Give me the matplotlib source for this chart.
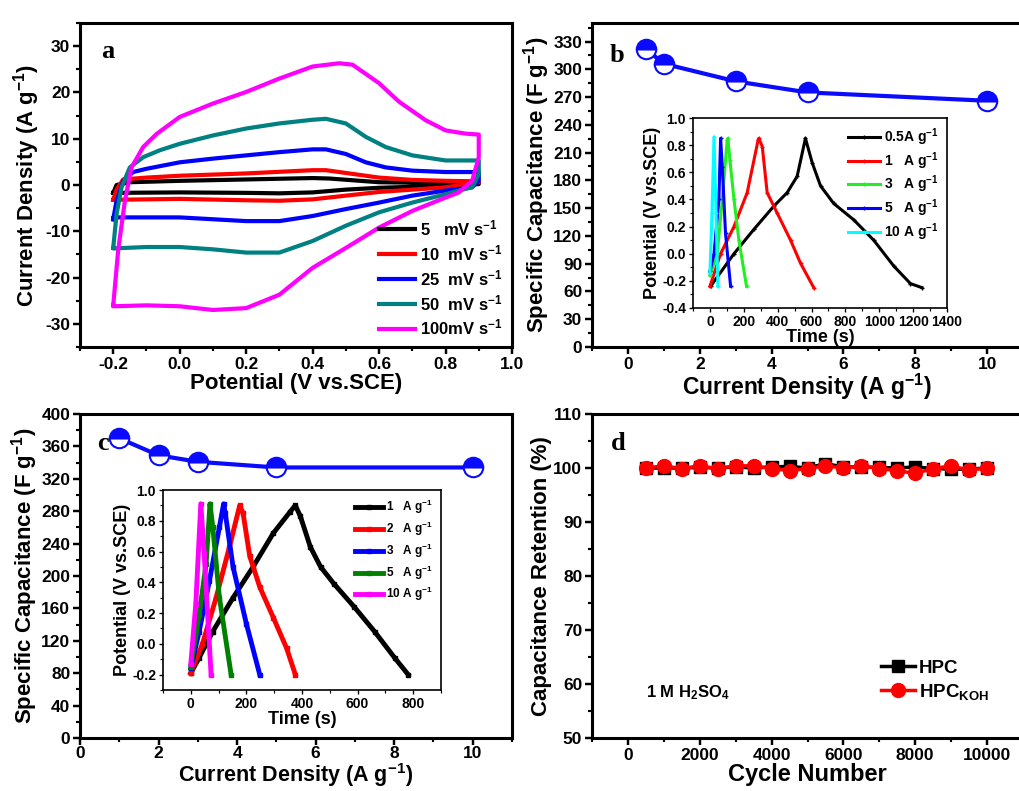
import matplotlib
matplotlib.use('Agg')
import matplotlib.pyplot as plt
from matplotlib.ticker import MultipleLocator

plt.rcParams['font.family'] = ['Liberation Sans', 'DejaVu Sans']
plt.rcParams['font.weight'] = 'bold'
plt.rcParams['axes.labelweight'] = 'bold'
plt.rcParams['mathtext.fontset'] = 'custom'
plt.rcParams['mathtext.rm'] = 'Liberation Sans:bold'
plt.rcParams['mathtext.it'] = 'Liberation Sans:bold'
plt.rcParams['mathtext.bf'] = 'Liberation Sans:bold'
plt.rcParams['mathtext.default'] = 'regular'

# ---------- panel a : CV curves (upper branch then lower branch) ----------
cv_labels = ['5   mV s$^{-1}$', '10  mV s$^{-1}$', '25  mV s$^{-1}$', '50  mV s$^{-1}$', '100mV s$^{-1}$']
cv_colors = ['black', '#ff0000', '#0000ff', '#008080', '#ff00ff']

v5 = [-0.2, -0.19, -0.15, 0.0, 0.2, 0.4, 0.45, 0.6, 0.8, 0.9,
      0.9, 0.8, 0.6, 0.5, 0.4, 0.3, 0.2, 0.0, -0.2, -0.2]
i5 = [-1.7, 0.0, 0.6, 0.9, 1.2, 1.5, 1.4, 0.6, 0.4, 0.4,
      0.2, -0.2, -0.6, -1.0, -1.6, -1.8, -1.7, -1.6, -1.7, -1.7]

v10 = [-0.2, -0.19, -0.17, -0.1, 0.0, 0.2, 0.4, 0.44, 0.5, 0.6, 0.7, 0.8, 0.9,
       0.9, 0.8, 0.6, 0.5, 0.4, 0.3, 0.2, 0.0, -0.2, -0.2]
i10 = [-3.2, -1.0, 1.2, 1.6, 2.0, 2.5, 3.2, 3.2, 2.6, 1.6, 1.1, 0.9, 0.8,
       0.6, -0.5, -1.5, -2.3, -3.1, -3.4, -3.3, -3.0, -3.2, -3.2]

v25 = [-0.2, -0.19, -0.17, -0.14, -0.1, 0.0, 0.1, 0.2, 0.3, 0.4, 0.44, 0.5, 0.56, 0.62, 0.7, 0.8, 0.9,
       0.9, 0.88, 0.8, 0.7, 0.6, 0.5, 0.4, 0.3, 0.2, 0.1, 0.0, -0.2, -0.2]
i25 = [-7.4, -3.4, 0.9, 2.8, 3.5, 4.9, 5.7, 6.4, 7.1, 7.7, 7.7, 6.7, 4.9, 3.8, 3.1, 2.8, 2.8,
       0.9, -0.5, -1.2, -2.3, -3.8, -5.2, -6.7, -7.8, -7.8, -7.4, -7.0, -7.0, -7.4]

v50 = [-0.2, -0.19, -0.175, -0.15, -0.11, -0.06, 0.0, 0.1, 0.2, 0.3, 0.4, 0.44, 0.5, 0.56, 0.62, 0.7, 0.8, 0.9,
       0.9, 0.88, 0.84, 0.8, 0.7, 0.6, 0.5, 0.4, 0.3, 0.2, 0.1, 0.0, -0.1, -0.2, -0.2]
i50 = [-13.6, -6.3, -0.5, 3.8, 6.0, 7.5, 8.9, 10.7, 12.2, 13.3, 14.1, 14.3, 13.3, 10.4, 8.2, 6.4, 5.3, 5.3,
       2.4, -0.5, -1.2, -2.0, -3.8, -5.9, -8.8, -12.1, -14.6, -14.6, -13.9, -13.4, -13.4, -13.7, -13.6]

v100 = [-0.2, -0.185, -0.165, -0.145, -0.11, -0.07, 0.0, 0.1, 0.2, 0.3, 0.4, 0.48, 0.52, 0.6, 0.66, 0.74, 0.8, 0.86, 0.9,
        0.9, 0.88, 0.84, 0.79, 0.7, 0.6, 0.5, 0.4, 0.3, 0.2, 0.1, 0.0, -0.1, -0.2, -0.2]
i100 = [-26, -14, -3.5, 3.8, 8.2, 11, 14.7, 17.6, 20.1, 23, 25.6, 26.3, 26, 22, 18, 14, 11.8, 11.1, 10.9,
        6, 0.9, -1.6, -3, -5.6, -9.2, -13.6, -17.9, -23.7, -26.6, -27, -26.2, -26, -26.2, -26]

# ---------- panel b ----------
b_density = [0.5, 1, 3, 5, 10]
b_capacitance = [322, 306, 287, 275, 266]

b_labels = ['0.5A g$^{-1}$', '1   A g$^{-1}$', '3   A g$^{-1}$', '5   A g$^{-1}$', '10 A g$^{-1}$']
b_colors = ['black', '#ff0000', '#22ee22', '#0000ff', '#00ffff']
b_t05 = [4, 142, 260, 377, 456, 515, 564, 604, 653, 731, 849, 967, 1085, 1184, 1252]
b_v05 = [-0.24, 0.0, 0.18, 0.35, 0.45, 0.57, 0.85, 0.67, 0.5, 0.37, 0.25, 0.10, -0.09, -0.22, -0.25]
b_t1 = [0, 63, 142, 220, 285, 289, 309, 338, 397, 476, 535, 613]
b_v1 = [-0.24, 0.0, 0.2, 0.45, 0.84, 0.85, 0.79, 0.45, 0.30, 0.10, -0.07, -0.25]
b_t3 = [0, 43, 73, 102, 106, 118, 142, 171, 216]
b_v3 = [-0.16, 0.0, 0.4, 0.84, 0.85, 0.69, 0.4, 0.1, -0.24]
b_t5 = [0, 24, 53, 63, 73, 92, 122]
b_v5 = [-0.13, 0.0, 0.4, 0.85, 0.64, 0.15, -0.24]
b_t10 = [0, 12, 24, 36, 47]
b_v10 = [-0.14, 0.3, 0.86, 0.3, -0.24]

# ---------- panel c ----------
c_density = [1, 2, 3, 5, 10]
c_capacitance = [370, 349, 341, 334, 334]

c_labels = ['1   A g$^{-1}$', '2   A g$^{-1}$', '3   A g$^{-1}$', '5   A g$^{-1}$', '10 A g$^{-1}$']
c_colors = ['black', '#ff0000', '#0000ff', '#008000', '#ff00ff']
c_t1 = [0, 30, 79, 152, 224, 297, 358, 376, 394, 430, 467, 515, 588, 661, 733, 782]
c_v1 = [-0.19, -0.09, 0.08, 0.30, 0.50, 0.72, 0.86, 0.90, 0.83, 0.63, 0.5, 0.39, 0.24, 0.08, -0.09, -0.2]
c_t2 = [0, 42, 91, 139, 176, 188, 212, 248, 297, 345, 376]
c_v2 = [-0.19, 0.0, 0.30, 0.63, 0.90, 0.85, 0.57, 0.37, 0.17, -0.03, -0.2]
c_t3 = [0, 30, 67, 103, 118, 124, 152, 200, 248]
c_v3 = [-0.16, 0.08, 0.41, 0.76, 0.91, 0.85, 0.5, 0.13, -0.2]
c_t5 = [0, 30, 55, 69, 79, 103, 145]
c_v5 = [-0.15, 0.19, 0.52, 0.91, 0.76, 0.30, -0.2]
c_t10 = [0, 18, 36, 48, 73]
c_v10 = [-0.13, 0.26, 0.91, 0.59, -0.2]

# ---------- panel d ----------
cycles = [500, 1000, 1500, 2000, 2500, 3000, 3500, 4000, 4500, 5000,
          5500, 6000, 6500, 7000, 7500, 8000, 8500, 9000, 9500, 10000]
hpc = [100, 100, 100, 100.1, 100, 100.2, 100, 100.2, 100.3, 100,
       100.8, 100.2, 100.2, 100.1, 100, 100.2, 99.9, 99.8, 99.8, 100]
hpc_koh = [100, 100.4, 99.9, 100.4, 99.9, 100.4, 100.4, 99.9, 99.5, 99.9,
           100.4, 100, 100.4, 99.9, 99.5, 99.0, 99.9, 100.4, 99.6, 100]

W, H = 1019, 791
fig = plt.figure(figsize=(W / 100, H / 100), dpi=100)


def box(l, t, r, b):
    return [l / W, 1 - b / H, (r - l) / W, (b - t) / H]


def style(ax, lw=2.2, size=12.5, major=5, minor=3):
    for s in ax.spines.values():
        s.set_linewidth(lw)
    ax.tick_params(which='major', direction='out', length=major, width=lw * 0.8,
                   labelsize=size, top=False, right=False, pad=2)
    ax.tick_params(which='minor', direction='out', length=minor, width=lw * 0.7,
                   top=False, right=False)
    for t in ax.get_xticklabels() + ax.get_yticklabels():
        t.set_fontweight('bold')


# panel a
ax1 = fig.add_axes(box(80, 23, 512, 347))
for v, i, c, lab in zip([v5, v10, v25, v50, v100], [i5, i10, i25, i50, i100], cv_colors, cv_labels):
    ax1.plot(v, i, color=c, lw=3, label=lab)
ax1.set_xlim(-0.3, 1.0)
ax1.set_ylim(-35, 35)
ax1.xaxis.set_minor_locator(MultipleLocator(0.1))
ax1.yaxis.set_minor_locator(MultipleLocator(5))
ax1.set_xticks([-0.2, 0.0, 0.2, 0.4, 0.6, 0.8, 1.0])
ax1.set_xticklabels(['-0.2', '0.0', '0.2', '0.4', '0.6', '0.8', '1.0'])
ax1.set_yticks([-30, -20, -10, 0, 10, 20, 30])
ax1.set_yticklabels(['-30', '-20', '-10', '0', '10', '20', '30'])
ax1.set_xlabel('Potential (V vs.SCE)', fontsize=16, labelpad=1)
ax1.set_ylabel('Current Density (A g$^{-1}$)', fontsize=16, labelpad=2)
style(ax1)
ax1.legend(loc='lower right', frameon=False, fontsize=12, handlelength=2.2,
           handletextpad=0.3, labelspacing=0.3, borderaxespad=0.15)

# panel b
ax2 = fig.add_axes(box(592, 23, 1023, 347))
ax2.plot(b_density, b_capacitance, 'o-', color='#0a0aff', lw=3, ms=14, fillstyle='top',
         markerfacecolor='#0a0aff', markerfacecoloralt='white', markeredgecolor='#0a0aff', mew=1.5)
ax2.set_xlim(-1, 11)
ax2.set_ylim(0, 350)
ax2.xaxis.set_major_locator(MultipleLocator(2))
ax2.xaxis.set_minor_locator(MultipleLocator(1))
ax2.yaxis.set_major_locator(MultipleLocator(30))
ax2.yaxis.set_minor_locator(MultipleLocator(15))
ax2.set_xlabel('Current Density (A g$^{-1}$)', fontsize=16.5, labelpad=0)
ax2.set_ylabel('Specific Capacitance (F g$^{-1}$)', fontsize=16, labelpad=1)
style(ax2)

ins_b = fig.add_axes(box(693, 118, 947, 308))
for t, v, c, lab in zip([b_t05, b_t1, b_t3, b_t5, b_t10], [b_v05, b_v1, b_v3, b_v5, b_v10], b_colors, b_labels):
    ins_b.plot(t, v, color=c, lw=2.2, marker='+', ms=3, label=lab)
ins_b.set_xlim(-100, 1400)
ins_b.set_ylim(-0.4, 1.0)
ins_b.xaxis.set_major_locator(MultipleLocator(200))
ins_b.xaxis.set_minor_locator(MultipleLocator(100))
ins_b.yaxis.set_minor_locator(MultipleLocator(0.1))
ins_b.set_yticks([-0.4, -0.2, 0.0, 0.2, 0.4, 0.6, 0.8, 1.0])
ins_b.set_yticklabels(['-0.4', '-0.2', '0.0', '0.2', '0.4', '0.6', '0.8', '1.0'])
ins_b.set_xlabel('Time (s)', fontsize=13, labelpad=0)
ins_b.set_ylabel('Potential (V vs.SCE)', fontsize=13, labelpad=1)
style(ins_b, lw=1.2, size=10, major=3, minor=2)
ins_b.legend(loc='upper right', frameon=False, fontsize=10, handlelength=2.3,
             handletextpad=0.3, labelspacing=0.15, borderaxespad=0.2)

# panel c
ax3 = fig.add_axes(box(80, 414, 512, 738))
ax3.plot(c_density, c_capacitance, 'o-', color='#0a0aff', lw=3, ms=14, fillstyle='top',
         markerfacecolor='#0a0aff', markerfacecoloralt='white', markeredgecolor='#0a0aff', mew=1.5)
ax3.set_xlim(0, 11)
ax3.set_ylim(0, 400)
ax3.xaxis.set_major_locator(MultipleLocator(2))
ax3.xaxis.set_minor_locator(MultipleLocator(1))
ax3.yaxis.set_major_locator(MultipleLocator(40))
ax3.yaxis.set_minor_locator(MultipleLocator(20))
ax3.set_xlabel('Current Density (A g$^{-1}$)', fontsize=15.5, labelpad=0)
ax3.set_ylabel('Specific Capacitance (F g$^{-1}$)', fontsize=16, labelpad=1)
style(ax3)
ax3.tick_params(axis='x', which='major', pad=1)

ins_c = fig.add_axes(box(163, 490, 441, 690))
for t, v, c, lab in zip([c_t1, c_t2, c_t3, c_t5, c_t10], [c_v1, c_v2, c_v3, c_v5, c_v10], c_colors, c_labels):
    ins_c.plot(t, v, color=c, lw=3.5, marker='s', ms=3, label=lab)
ins_c.set_xlim(-100, 900)
ins_c.set_ylim(-0.3, 1.0)
ins_c.xaxis.set_minor_locator(MultipleLocator(100))
ins_c.yaxis.set_minor_locator(MultipleLocator(0.1))
ins_c.set_xticks([0, 200, 400, 600, 800])
ins_c.set_yticks([-0.2, 0.0, 0.2, 0.4, 0.6, 0.8, 1.0])
ins_c.set_yticklabels(['-0.2', '0.0', '0.2', '0.4', '0.6', '0.8', '1.0'])
ins_c.set_xlabel('Time (s)', fontsize=13, labelpad=0)
ins_c.set_ylabel('Potential (V vs.SCE)', fontsize=13, labelpad=1)
style(ins_c, lw=1.2, size=10, major=3, minor=2)
ins_c.legend(loc='upper right', frameon=False, fontsize=8.5, handlelength=2.3,
             handletextpad=0.3, labelspacing=0.3, borderaxespad=0.3)

# panel d
ax4 = fig.add_axes(box(592, 414, 1023, 738))
ax4.plot(cycles, hpc, 's-', color='black', lw=2.5, ms=9, label='HPC')
ax4.plot(cycles, hpc_koh, 'o-', color='#ff0000', lw=2.5, ms=10, label='HPC$_{KOH}$')
ax4.set_xlim(-1000, 11000)
ax4.set_ylim(50, 110)
ax4.xaxis.set_major_locator(MultipleLocator(2000))
ax4.xaxis.set_minor_locator(MultipleLocator(1000))
ax4.yaxis.set_major_locator(MultipleLocator(10))
ax4.yaxis.set_minor_locator(MultipleLocator(5))
ax4.set_xlabel('Cycle Number', fontsize=17, labelpad=0)
ax4.set_ylabel('Capacitance Retention (%)', fontsize=16, labelpad=1)
style(ax4)
ax4.legend(loc='lower right', bbox_to_anchor=(0.96, 0.06), frameon=False, fontsize=13.5,
           handlelength=1.8, handletextpad=0.2, labelspacing=0.25)
ax4.text(0.125, 0.125, '1 M H$_2$SO$_4$', transform=ax4.transAxes, fontsize=12)

# panel letters
for lab, x, y in [('a', 108, 52), ('b', 617, 56), ('c', 103, 444), ('d', 618, 443)]:
    fig.text(x / W, 1 - y / H, lab, fontsize=19, fontweight='bold',
             family='Liberation Serif', ha='center', va='center')

fig.savefig('out.png', dpi=100)
